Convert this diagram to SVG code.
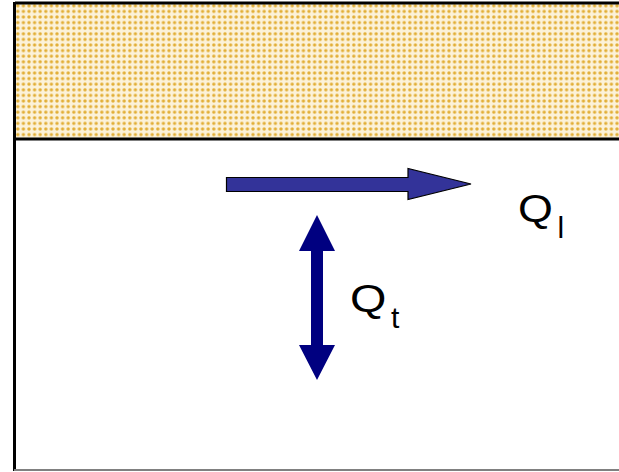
<svg xmlns="http://www.w3.org/2000/svg" width="619" height="472" viewBox="0 0 619 472">
<defs>
<pattern id="dots" x="15" y="3" width="5.6" height="5.6" patternUnits="userSpaceOnUse">
<rect width="5.6" height="5.6" fill="#fcf2d9"/>
<circle cx="2.8" cy="2.8" r="1.7" fill="#e2ae35"/>
</pattern>
<style>
.frame{stroke:#000;stroke-width:3;fill:none}
.lbl{font-family:"Liberation Sans",Arial,sans-serif;fill:#000}
</style>
</defs>
<rect x="0" y="0" width="619" height="472" fill="#fff"/>
<g id="ground">
<rect x="15" y="3" width="604" height="135.5" fill="url(#dots)"/>
</g>
<g id="frame">
<line class="frame" x1="15" y1="3" x2="619" y2="3"/>
<line class="frame" x1="15" y1="139" x2="619" y2="139"/>
<line class="frame" x1="14.5" y1="2" x2="14.5" y2="471"/>
<line x1="14" y1="470" x2="619" y2="470" stroke="#808080" stroke-width="2"/>
</g>
<g id="connectors">
<g id="Ql-arrow">
<polygon points="226.5,177.5 408,177.5 408,168.5 471,184 408,199.5 408,191.5 226.5,191.5" fill="#333399" stroke="#000" stroke-width="1.2"/>
</g>
<g id="Qt-arrow">
<polygon points="317,215 335,251 323,251 323,345 335,345 317,380 299,345 311,345 311,251 299,251" fill="#000080"/>
</g>
</g>
<g id="label-Ql">
<text class="lbl" transform="translate(518,222) scale(1.18,1)" font-size="38">Q</text>
<text class="lbl" x="557.5" y="238" font-size="30">l</text>
</g>
<g id="label-Qt">
<text class="lbl" transform="translate(350,311.7) scale(1.2,1)" font-size="39">Q</text>
<text class="lbl" x="391" y="328" font-size="30">t</text>
</g>
</svg>
